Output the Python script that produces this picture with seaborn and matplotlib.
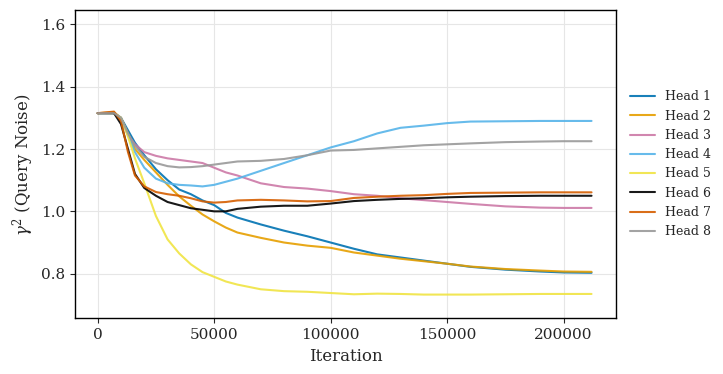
import pandas as pd
import numpy as np
import seaborn as sns
import matplotlib.pyplot as plt

# iterations
iters = [0, 7000, 10000, 13000, 16000, 20000, 25000, 30000, 35000, 40000, 45000, 50000,
         55000, 60000, 70000, 80000, 90000, 100000, 110000, 120000, 130000, 140000,
         150000, 160000, 175000, 190000, 200000, 212000]

head1 = [1.315, 1.315, 1.30, 1.26, 1.22, 1.18, 1.135, 1.10, 1.07, 1.055, 1.035, 1.02,
         0.995, 0.98, 0.958, 0.938, 0.92, 0.90, 0.88, 0.862, 0.852, 0.842,
         0.832, 0.822, 0.813, 0.807, 0.804, 0.803]
head2 = [1.315, 1.318, 1.30, 1.25, 1.20, 1.165, 1.125, 1.085, 1.048, 1.018, 0.99, 0.968,
         0.948, 0.932, 0.915, 0.90, 0.89, 0.883, 0.868, 0.858, 0.848, 0.84,
         0.832, 0.823, 0.815, 0.81, 0.807, 0.806]
head3 = [1.315, 1.315, 1.30, 1.245, 1.215, 1.19, 1.178, 1.17, 1.165, 1.16, 1.155, 1.14,
         1.125, 1.115, 1.09, 1.078, 1.073, 1.065, 1.055, 1.05, 1.042, 1.036,
         1.03, 1.024, 1.016, 1.012, 1.011, 1.011]
head4 = [1.315, 1.315, 1.30, 1.245, 1.19, 1.14, 1.105, 1.09, 1.085, 1.083, 1.08, 1.085,
         1.095, 1.105, 1.13, 1.155, 1.18, 1.205, 1.225, 1.25, 1.268, 1.275,
         1.283, 1.288, 1.289, 1.29, 1.29, 1.29]
head5 = [1.315, 1.315, 1.30, 1.24, 1.17, 1.09, 0.985, 0.91, 0.865, 0.83, 0.805, 0.79,
         0.775, 0.765, 0.75, 0.744, 0.742, 0.738, 0.734, 0.736, 0.735, 0.733,
         0.733, 0.733, 0.734, 0.735, 0.735, 0.735]
head6 = [1.315, 1.315, 1.28, 1.20, 1.12, 1.075, 1.05, 1.03, 1.02, 1.01, 1.005, 1.0,
         1.0, 1.008, 1.015, 1.018, 1.018, 1.025, 1.033, 1.037, 1.04, 1.042,
         1.045, 1.047, 1.049, 1.05, 1.05, 1.05]
head7 = [1.315, 1.32, 1.29, 1.19, 1.115, 1.08, 1.062, 1.055, 1.05, 1.042, 1.032, 1.028,
         1.03, 1.035, 1.037, 1.035, 1.032, 1.033, 1.043, 1.047, 1.05, 1.052,
         1.056, 1.059, 1.06, 1.061, 1.061, 1.061]
head8 = [1.315, 1.315, 1.30, 1.25, 1.21, 1.175, 1.155, 1.145, 1.141, 1.142, 1.145, 1.15,
         1.155, 1.16, 1.162, 1.168, 1.18, 1.195, 1.197, 1.202, 1.207, 1.212,
         1.215, 1.218, 1.222, 1.224, 1.225, 1.225]

heads = ["Head 1", "Head 2", "Head 3", "Head 4", "Head 5", "Head 6", "Head 7", "Head 8"]
colors = ["#0072B2", "#E69F00", "#CC79A7", "#56B4E9", "#F0E442", "#000000", "#D55E00", "#999999"]
series = [head1, head2, head3, head4, head5, head6, head7, head8]

df = pd.concat([pd.DataFrame({"Iteration": iters, "gamma": s, "Head": h})
                for h, s in zip(heads, series)], ignore_index=True)

sns.set_style("ticks")
plt.rcParams["font.family"] = ["DejaVu Serif"]
plt.rcParams["mathtext.fontset"] = "dejavuserif"

fig = plt.figure(figsize=(7.23, 3.74), dpi=100)
ax = fig.add_axes([0.104, 0.149, 0.748, 0.8235])

sns.lineplot(data=df, x="Iteration", y="gamma", hue="Head", palette=dict(zip(heads, colors)),
             linewidth=1.5, alpha=0.9, ax=ax)

ax.set_xlim(-9660, 222500)
ax.set_ylim(0.657, 1.645)
ax.set_yticks([0.8, 1.0, 1.2, 1.4, 1.6])
ax.grid(True, color="#e6e6e6", linewidth=0.8)
ax.tick_params(labelsize=11)
ax.set_xlabel("Iteration", fontsize=12)
ax.set_ylabel(r"$\gamma^2$ (Query Noise)", fontsize=12)
for sp in ax.spines.values():
    sp.set_color("black")
    sp.set_linewidth(1.0)

ax.legend(loc="center left", bbox_to_anchor=(1.005, 0.5), frameon=False, fontsize=9)

fig.savefig("out.png", dpi=100)
